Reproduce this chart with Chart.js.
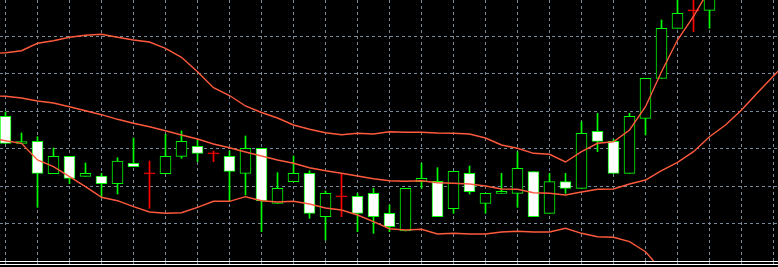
<!DOCTYPE html>
<html>
<head>
<meta charset="utf-8">
<script src="https://cdn.jsdelivr.net/npm/chart.js@4/dist/chart.umd.min.js"></script>
<style>
html, body { margin: 0; padding: 0; background: #000; overflow: hidden; }
#wrap { width: 778px; height: 267px; position: relative; }
</style>
</head>
<body>
<div id="wrap"><canvas id="chart"></canvas></div>
<script>
// candles, oldest first (price in chart points)
var open  = [144.7, 117.5, 119.7, 87.3, 104.7, 84.7, 85, 77.3, 97.7, 87.7, 87.3, 104.7, 114.7, 107.7, 104.7, 87.7, 112.7, 57.7, 79.3, 87.7, 44.3, 64.7, 64.7, 67.7, 47.7, 30, 79.3, 79.7, 52.3, 87.7, 57.7, 67.7, 67.7, 89.3, 47.7, 79.3, 72.7, 129.7, 119.7, 87.7, 142.7, 182.7, 232.7, 250.7, 250.7];
var high  = [149, 128, 124.3, 113, 104.7, 98, 87.7, 103.3, 123, 100, 126.7, 130, 121, 110, 110, 125, 112.7, 88.3, 105, 90.3, 70, 87.7, 67.7, 72.7, 56, 72.7, 97.7, 93.3, 89.7, 95, 67.7, 87.7, 109.3, 89.3, 87.7, 87.7, 139.3, 147.7, 121.7, 147.7, 182.7, 241, 265, 264, 270];
var low   = [117.7, 117.3, 53.7, 87.3, 77.3, 84.7, 64.3, 67, 94.3, 52.7, 87.3, 102.7, 99.3, 99.3, 60, 66, 29.3, 57.7, 79.3, 42.7, 21, 44.3, 29.3, 27.7, 29.3, 30, 72.7, 44.3, 47.7, 67, 47.7, 67.7, 53.7, 44.3, 47.7, 67.7, 72.7, 109.3, 87.7, 87.7, 126, 182.7, 232.7, 229.3, 232.7];
var close = [117.7, 119.5, 87.7, 104.7, 82.7, 87.7, 77.3, 100, 94.3, 87.7, 104.7, 119.7, 107.7, 107.7, 89.7, 112.7, 60, 72.7, 87.7, 47.7, 67.7, 64.7, 47.7, 44.3, 34.3, 72.7, 82.7, 44.3, 89.7, 69.3, 67.7, 69.7, 92.7, 44.3, 79.3, 72.7, 127.7, 119.7, 87.7, 144.7, 182.7, 232.7, 247.7, 250.7, 266];

// bollinger bands, first value is one bar left of candle 0
var bandStart = -1;
var upper  = [207, 208.3, 210.3, 217.7, 220.3, 223.7, 225.7, 226.7, 223.7, 221, 219, 212.7, 203.7, 189.3, 173.3, 165.5, 155, 148.5, 143, 136, 131.7, 128.3, 126.3, 127.7, 127, 129.3, 128.7, 128.7, 128, 127.7, 127, 123, 116, 112.7, 107.7, 106.7, 99, 109.3, 117.7, 119.3, 131, 154.3, 189.3, 221, 244.5, 272];
var middle = [165.3, 164.7, 163, 160, 158, 154.3, 150.3, 146.3, 141.7, 137.7, 134.3, 130.3, 126, 122, 117, 113.3, 109, 105, 101, 97.7, 93.3, 90.3, 87.7, 85, 82.3, 80.3, 79.7, 80.3, 78.3, 77.7, 77, 75, 72, 71.7, 68.3, 67.7, 66, 69, 71.7, 72, 77, 81, 90.3, 98.7, 109.3, 124.3, 136, 151, 168.3, 185, 201.5];
var lower  = [123, 120.3, 117.7, 101, 94.3, 84.3, 74.3, 63.7, 60.3, 54.3, 49, 47.7, 48.3, 53.7, 59.7, 59.7, 64.3, 60.3, 59, 59.7, 57, 53, 51, 46, 39.3, 32.3, 31, 31.7, 27, 27.7, 27, 27, 29, 29.7, 29, 29, 32.7, 27.7, 24.3, 23.7, 19.3, 9.3, -9];

// grid positions
var gridX = [0, 2, 4, 6, 8, 10, 12, 14, 16, 18, 20, 22, 24, 26, 28, 30, 32, 34, 36, 38, 40, 42, 44, 46, 48];
var gridY = [37.5, 75, 112.5, 150, 187.5, 225];

var green = '#00ff00';
var bandColor = '#ff5a3c';
var gridColor = '#778899';

function isDoji(i) { return open[i] === close[i]; }

var bodyData = [], bodyFill = [], bodyLine = [], wickData = [], wickColor = [];
for (var i = 0; i < open.length; i++) {
    if (isDoji(i)) {
        bodyData.push({ x: i, y: [open[i] - 0.5, open[i] + 0.5] });
        bodyFill.push('#ff0000');
        bodyLine.push('#ff0000');
        wickColor.push('#ff0000');
    } else {
        bodyData.push({ x: i, y: [open[i], close[i]] });
        bodyFill.push(close[i] > open[i] ? '#000000' : '#ffffff');
        bodyLine.push(green);
        wickColor.push(green);
    }
    wickData.push({ x: i, y: [low[i], high[i]] });
}

function band(values) {
    return values.map(function (v, k) { return { x: bandStart + k, y: v }; });
}

function lineSet(values) {
    return {
        type: 'line',
        data: band(values),
        borderColor: bandColor,
        borderWidth: 1.4,
        pointRadius: 0,
        tension: 0,
        order: 0
    };
}

var bottomLines = {
    id: 'bottomLines',
    afterDraw: function (chart) {
        var c = chart.ctx, a = chart.chartArea, xs = chart.scales.x;
        c.save();
        c.strokeStyle = gridColor;
        c.lineWidth = 1;
        c.setLineDash([3, 3]);
        gridX.forEach(function (v) {
            var px = Math.round(xs.getPixelForValue(v) - 0.5) + 0.5;
            c.beginPath();
            c.moveTo(px, a.bottom);
            c.lineTo(px, chart.height);
            c.stroke();
        });
        c.setLineDash([]);
        c.fillStyle = '#ffffff';
        c.fillRect(0, 261, chart.width, 1);
        c.fillRect(0, 264, chart.width, 1);
        c.restore();
    }
};

var ctx = document.getElementById('chart').getContext('2d');

var chart = new Chart(ctx, {
    type: 'bar',
    data: {
        datasets: [
            lineSet(upper),
            lineSet(middle),
            lineSet(lower),
            {
                data: bodyData,
                backgroundColor: bodyFill,
                borderColor: bodyLine,
                borderWidth: 1,
                borderSkipped: false,
                barThickness: 11,
                grouped: false,
                order: 1
            },
            {
                data: wickData,
                backgroundColor: wickColor,
                borderWidth: 0,
                barThickness: 1,
                grouped: false,
                order: 2
            }
        ]
    },
    options: {
        responsive: true,
        maintainAspectRatio: false,
        animation: false,
        events: [],
        layout: { padding: { left: 0, right: 0, top: 0, bottom: 6 }, autoPadding: false },
        plugins: { legend: { display: false }, tooltip: { enabled: false } },
        scales: {
            x: {
                type: 'linear',
                min: -5.5 / 16,
                max: (778 - 5.5) / 16,
                offset: false,
                ticks: { display: false },
                grid: { color: gridColor, lineWidth: 1, drawTicks: false, offset: false },
                border: { display: false, dash: [3, 3] },
                afterBuildTicks: function (s) { s.ticks = gridX.map(function (v) { return { value: v }; }); }
            },
            y: {
                type: 'linear',
                min: 0,
                max: 261,
                ticks: { display: false },
                grid: { color: gridColor, lineWidth: 1, drawTicks: false },
                border: { display: false, dash: [3, 3] },
                afterBuildTicks: function (s) { s.ticks = gridY.map(function (v) { return { value: v }; }); }
            }
        }
    },
    plugins: [bottomLines]
});
</script>
</body>
</html>
